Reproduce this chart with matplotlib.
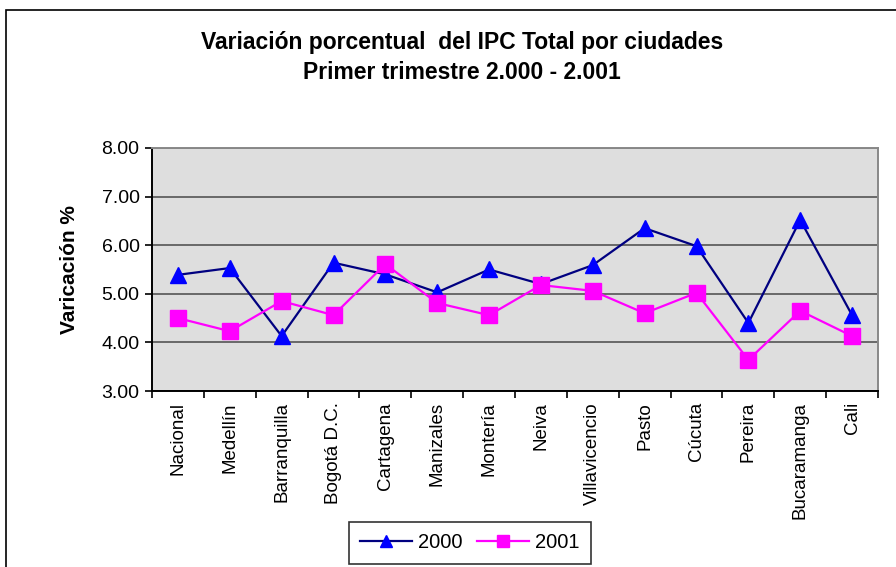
import matplotlib.pyplot as plt
from matplotlib.patches import Rectangle

plt.rcParams['font.family'] = ['Liberation Sans', 'DejaVu Sans']

ciudades = ["Nacional", "Medellín", "Barranquilla", "Bogotá D.C.", "Cartagena",
            "Manizales", "Montería", "Neiva", "Villavicencio", "Pasto", "Cúcuta",
            "Pereira", "Bucaramanga", "Cali"]
var_2000 = [5.39, 5.53, 4.13, 5.64, 5.40, 5.03, 5.50, 5.20, 5.59, 6.35, 5.98, 4.40, 6.52, 4.56]
var_2001 = [4.50, 4.23, 4.85, 4.56, 5.61, 4.81, 4.56, 5.18, 5.06, 4.60, 5.02, 3.64, 4.65, 4.13]
yticks = [3, 4, 5, 6, 7, 8]

fig = plt.figure(figsize=(8.96, 5.67), dpi=100)
ax = fig.add_axes([152/896, 1 - 391/567, (878 - 152)/896, (391 - 148)/567])

# marco del grafico
fig.patches.append(Rectangle((6/896, -0.1), 1.0, 1.1 - 10/567, transform=fig.transFigure,
                             fill=False, edgecolor='black', linewidth=1.2))

ax.set_facecolor('#dedede')
x = range(len(ciudades))
ax.plot(x, var_2000, color='#000080', linewidth=1.6, marker='^', markersize=12,
        markerfacecolor='#0000ff', markeredgecolor='#0000ff', label='2000', zorder=3)
ax.plot(x, var_2001, color='#ff00ff', linewidth=1.6, marker='s', markersize=11,
        markerfacecolor='#ff00ff', markeredgecolor='#ff00ff', label='2001', zorder=3)

ax.set_xlim(-0.5, len(ciudades) - 0.5)
ax.set_ylim(3, 8)
ax.set_yticks(yticks)
ax.set_yticklabels(["%.2f" % v for v in yticks], fontsize=14)
ax.yaxis.grid(True, color='#555555', linewidth=1.2)
ax.set_axisbelow(True)

ax.set_xticks([i - 0.5 for i in range(len(ciudades) + 1)], minor=False)
ax.set_xticklabels([])
ax.set_xticks(list(x), minor=True)
ax.set_xticklabels(ciudades, minor=True, rotation=90, fontsize=13.5)
ax.tick_params(axis='x', which='minor', length=0, pad=8)
ax.tick_params(axis='x', which='major', length=5, width=1.2)
ax.tick_params(axis='y', length=5, width=1.2, pad=4)

for s in ['left', 'bottom']:
    ax.spines[s].set_color('black')
    ax.spines[s].set_linewidth(1.4)
for s in ['top', 'right']:
    ax.spines[s].set_color('#888888')
    ax.spines[s].set_linewidth(1.4)

ax.set_ylabel('Varicación %', fontsize=15, fontweight='bold', labelpad=16)

fig.text(462/896, 1 - 43/567, 'Variación porcentual  del IPC Total por ciudades',
         ha='center', va='center', fontsize=16.5, fontweight='bold')
fig.text(462/896, 1 - 73/567, 'Primer trimestre 2.000 - 2.001',
         ha='center', va='center', fontsize=16.5, fontweight='bold')

leg = fig.legend(loc='center', bbox_to_anchor=(470/896, 1 - 543/567), ncol=2,
                 fontsize=14.5, frameon=True, fancybox=False, edgecolor='black',
                 handlelength=2.6, columnspacing=0.7, handletextpad=0.3, borderpad=0.55,
                 borderaxespad=0.3)
leg.get_frame().set_linewidth(1.2)
for h in leg.legend_handles:
    h.set_markersize(9)

fig.savefig('out.png', dpi=100)
